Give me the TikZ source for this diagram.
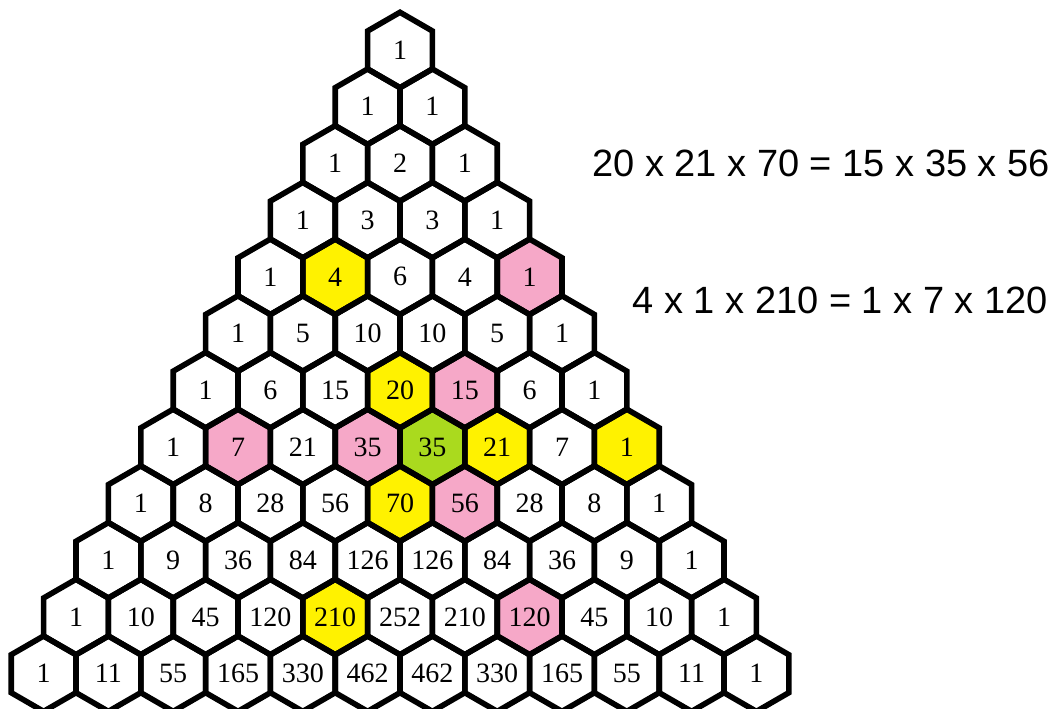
\documentclass[tikz,border=0pt]{standalone}
\usepackage{fontspec}
\setmainfont{Liberation Serif}
\newfontfamily\eqfont{Liberation Sans}
\definecolor{hexyellow}{RGB}{255,242,0}
\definecolor{hexpink}{RGB}{246,168,200}
\definecolor{hexgreen}{RGB}{170,218,30}
\newcommand\hexshape{++(0,-37.7) -- ++(32.4,18.7) -- ++(0,38) -- ++(-32.4,18.7) -- ++(-32.4,-18.7) -- ++(0,-38) -- cycle}
\begin{document}
\begin{tikzpicture}[x=1pt,y=-1pt,
  hexline/.style={line width=5.6pt, line join=miter},
  celltext/.style={font=\fontsize{28}{28}\selectfont, inner sep=0pt},
  eqtext/.style={font=\eqfont\fontsize{38}{38}\selectfont, inner sep=0pt, anchor=east}]
\useasboundingbox (0,0) rectangle (1058,709);
% coloured cells
\foreach \n/\k/\c in {4/1/hexyellow, 4/4/hexpink, 6/3/hexyellow, 6/4/hexpink,
  7/1/hexpink, 7/3/hexpink, 7/4/hexgreen, 7/5/hexyellow, 7/7/hexyellow,
  8/4/hexyellow, 8/5/hexpink, 10/4/hexyellow, 10/7/hexpink} {
  \pgfmathsetmacro\cx{400+64.8*(\k-\n/2)}
  \pgfmathsetmacro\cy{50+56.7*\n}
  \fill[\c] (\cx,\cy) \hexshape;
}
% outlines and numbers
\foreach \row [count=\n from 0] in {{1},{1,1},{1,2,1},{1,3,3,1},{1,4,6,4,1},
  {1,5,10,10,5,1},{1,6,15,20,15,6,1},{1,7,21,35,35,21,7,1},
  {1,8,28,56,70,56,28,8,1},{1,9,36,84,126,126,84,36,9,1},
  {1,10,45,120,210,252,210,120,45,10,1},{1,11,55,165,330,462,462,330,165,55,11,1}} {
  \foreach \v [count=\k from 0] in \row {
    \pgfmathsetmacro\cx{400+64.8*(\k-\n/2)}
    \pgfmathsetmacro\cy{50+56.7*\n}
    \draw[hexline] (\cx,\cy) \hexshape;
    \node[celltext] (c-\n-\k) at (\cx,\cy) {\v};
  }
}
\node[eqtext] (eq1) at (1050,163) {20 x 21 x 70 = 15 x 35 x 56};
\node[eqtext] (eq2) at (1048,300) {4 x 1 x 210 = 1 x 7 x 120};
\end{tikzpicture}
\end{document}
